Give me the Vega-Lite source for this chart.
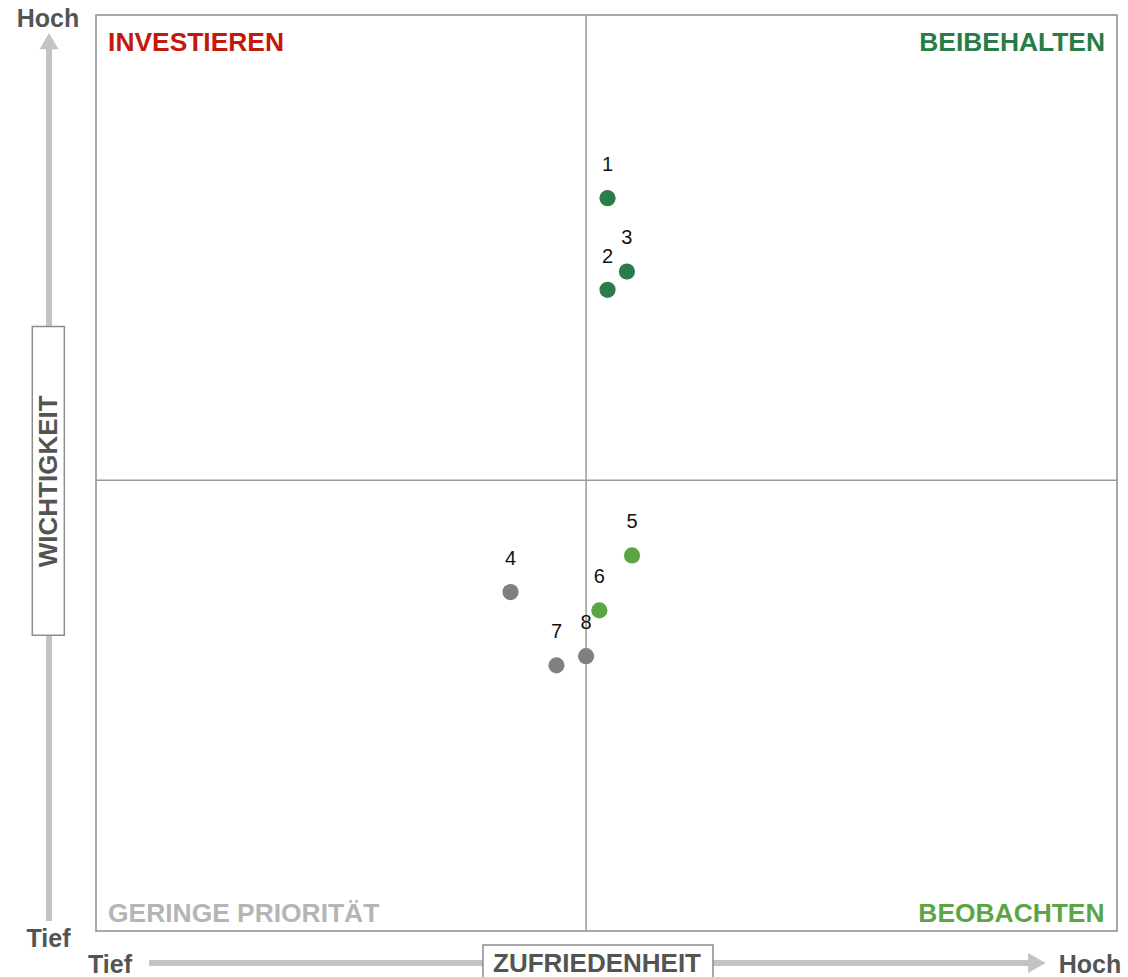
{
  "$schema": "https://vega.github.io/schema/vega-lite/v6.json",
  "autosize": {"type": "none"},
  "width": 1021,
  "height": 916,
  "padding": {"left": 96, "top": 15, "right": 11, "bottom": 46},
  "background": "white",
  "config": {
    "view": {"stroke": "#8c8c8c", "strokeWidth": 1.5},
    "font": "Liberation Sans"
  },
  "datasets": {
    "points": [
      {"id": "1", "zufriedenheit": 50.1, "wichtigkeit": 80.0, "gruppe": "Beibehalten"},
      {"id": "2", "zufriedenheit": 50.1, "wichtigkeit": 70.0, "gruppe": "Beibehalten"},
      {"id": "3", "zufriedenheit": 52.0, "wichtigkeit": 72.0, "gruppe": "Beibehalten"},
      {"id": "4", "zufriedenheit": 40.6, "wichtigkeit": 37.0, "gruppe": "Geringe Priorität"},
      {"id": "5", "zufriedenheit": 52.5, "wichtigkeit": 41.0, "gruppe": "Beobachten"},
      {"id": "6", "zufriedenheit": 49.3, "wichtigkeit": 35.0, "gruppe": "Beobachten"},
      {"id": "7", "zufriedenheit": 45.1, "wichtigkeit": 29.0, "gruppe": "Geringe Priorität"},
      {"id": "8", "zufriedenheit": 48.0, "wichtigkeit": 30.0, "gruppe": "Geringe Priorität"}
    ],
    "quadrantsLeft": [
      {"label": "INVESTIEREN", "quadrant": "Investieren", "x": 1.18, "y": 97.0},
      {"label": "GERINGE PRIORITÄT", "quadrant": "Geringe Priorität", "x": 1.18, "y": 2.0}
    ],
    "quadrantsRight": [
      {"label": "BEIBEHALTEN", "quadrant": "Beibehalten", "x": 98.82, "y": 97.0},
      {"label": "BEOBACHTEN", "quadrant": "Beobachten", "x": 98.78, "y": 2.0}
    ],
    "arrowLines": [
      {"axis": "Wichtigkeit", "x": -4.6, "y": 1.1, "x2": -4.6, "y2": 96.4},
      {"axis": "Zufriedenheit", "x": 5.2, "y": -3.5, "x2": 91.4, "y2": -3.5}
    ],
    "arrowHeadsUp": [{"axis": "Wichtigkeit", "x": -4.6, "y": 97.15}],
    "arrowHeadsRight": [{"axis": "Zufriedenheit", "x": 92.15, "y": -3.5}],
    "boxes": [
      {"axis": "Wichtigkeit", "x": -6.24, "x2": -3.1, "y": 32.3, "y2": 66.0},
      {"axis": "Zufriedenheit", "x": 37.9, "x2": 60.43, "y": -6.5, "y2": -1.53}
    ],
    "endLabels": [
      {"label": "Hoch", "x": -4.7, "y": 99.67},
      {"label": "Tief", "x": -4.65, "y": -0.76},
      {"label": "Tief", "x": 1.37, "y": -3.55},
      {"label": "Hoch", "x": 97.36, "y": -3.55}
    ]
  },
  "layer": [
    {
      "data": {"values": [{"mitte": 48.0}]},
      "mark": {"type": "rule", "color": "#9a9a9a", "strokeWidth": 1.5},
      "encoding": {
        "x": {"field": "mitte", "type": "quantitative", "scale": {"domain": [0, 100], "nice": false, "zero": false}, "axis": null}
      }
    },
    {
      "data": {"values": [{"mitte": 49.2}]},
      "mark": {"type": "rule", "color": "#9a9a9a", "strokeWidth": 1.5},
      "encoding": {
        "y": {"field": "mitte", "type": "quantitative", "scale": {"domain": [0, 100], "nice": false, "zero": false}, "axis": null}
      }
    },
    {
      "data": {"name": "arrowLines"},
      "mark": {"type": "rule", "color": "#c3c3c3", "strokeWidth": 6, "strokeCap": "butt", "clip": false},
      "encoding": {
        "x": {"field": "x", "type": "quantitative", "scale": {"domain": [0, 100], "nice": false, "zero": false}, "axis": null},
        "x2": {"field": "x2"},
        "y": {"field": "y", "type": "quantitative", "scale": {"domain": [0, 100], "nice": false, "zero": false}, "axis": null},
        "y2": {"field": "y2"}
      }
    },
    {
      "data": {"name": "arrowHeadsUp"},
      "mark": {"type": "point", "shape": "triangle-up", "filled": true, "color": "#c3c3c3", "opacity": 1, "size": 361, "clip": false},
      "encoding": {
        "x": {"field": "x", "type": "quantitative", "scale": {"domain": [0, 100], "nice": false, "zero": false}, "axis": null},
        "y": {"field": "y", "type": "quantitative", "scale": {"domain": [0, 100], "nice": false, "zero": false}, "axis": null}
      }
    },
    {
      "data": {"name": "arrowHeadsRight"},
      "mark": {"type": "point", "shape": "triangle-right", "filled": true, "color": "#c3c3c3", "opacity": 1, "size": 400, "clip": false},
      "encoding": {
        "x": {"field": "x", "type": "quantitative", "scale": {"domain": [0, 100], "nice": false, "zero": false}, "axis": null},
        "y": {"field": "y", "type": "quantitative", "scale": {"domain": [0, 100], "nice": false, "zero": false}, "axis": null}
      }
    },
    {
      "data": {"name": "boxes"},
      "mark": {"type": "rect", "fill": "white", "stroke": "#8c8c8c", "strokeWidth": 1.5, "clip": false},
      "encoding": {
        "x": {"field": "x", "type": "quantitative", "scale": {"domain": [0, 100], "nice": false, "zero": false}, "axis": null},
        "x2": {"field": "x2"},
        "y": {"field": "y", "type": "quantitative", "scale": {"domain": [0, 100], "nice": false, "zero": false}, "axis": null},
        "y2": {"field": "y2"}
      }
    },
    {
      "data": {"values": [{"label": "WICHTIGKEIT", "x": -4.67, "y": 49.1}]},
      "mark": {"type": "text", "angle": 270, "fontSize": 26, "fontWeight": "bold", "color": "#535553", "align": "center", "baseline": "middle", "dy": 1, "clip": false},
      "encoding": {
        "x": {"field": "x", "type": "quantitative", "scale": {"domain": [0, 100], "nice": false, "zero": false}, "axis": null},
        "y": {"field": "y", "type": "quantitative", "scale": {"domain": [0, 100], "nice": false, "zero": false}, "axis": null},
        "text": {"field": "label"}
      }
    },
    {
      "data": {"values": [{"label": "ZUFRIEDENHEIT", "x": 49.07, "y": -3.53}]},
      "mark": {"type": "text", "fontSize": 26, "fontWeight": "bold", "color": "#535553", "align": "center", "baseline": "middle", "dy": 1, "clip": false},
      "encoding": {
        "x": {"field": "x", "type": "quantitative", "scale": {"domain": [0, 100], "nice": false, "zero": false}, "axis": null},
        "y": {"field": "y", "type": "quantitative", "scale": {"domain": [0, 100], "nice": false, "zero": false}, "axis": null},
        "text": {"field": "label"}
      }
    },
    {
      "data": {"name": "endLabels"},
      "mark": {"type": "text", "fontSize": 25, "fontWeight": "bold", "color": "#535553", "align": "center", "baseline": "middle", "dy": 1, "clip": false},
      "encoding": {
        "x": {"field": "x", "type": "quantitative", "scale": {"domain": [0, 100], "nice": false, "zero": false}, "axis": null},
        "y": {"field": "y", "type": "quantitative", "scale": {"domain": [0, 100], "nice": false, "zero": false}, "axis": null},
        "text": {"field": "label"}
      }
    },
    {
      "data": {"name": "quadrantsLeft"},
      "mark": {"type": "text", "fontSize": 26.4, "fontWeight": "bold", "align": "left", "baseline": "middle", "dy": 1},
      "encoding": {
        "x": {"field": "x", "type": "quantitative", "scale": {"domain": [0, 100], "nice": false, "zero": false}, "axis": null},
        "y": {"field": "y", "type": "quantitative", "scale": {"domain": [0, 100], "nice": false, "zero": false}, "axis": null},
        "text": {"field": "label"},
        "color": {"field": "quadrant", "type": "nominal", "legend": null,
          "scale": {"domain": ["Investieren", "Beibehalten", "Beobachten", "Geringe Priorität"], "range": ["#c3190b", "#277c47", "#5ba544", "#b5b5b5"]}}
      }
    },
    {
      "data": {"name": "quadrantsRight"},
      "mark": {"type": "text", "fontSize": 26.4, "fontWeight": "bold", "align": "right", "baseline": "middle", "dy": 1},
      "encoding": {
        "x": {"field": "x", "type": "quantitative", "scale": {"domain": [0, 100], "nice": false, "zero": false}, "axis": null},
        "y": {"field": "y", "type": "quantitative", "scale": {"domain": [0, 100], "nice": false, "zero": false}, "axis": null},
        "text": {"field": "label"},
        "color": {"field": "quadrant", "type": "nominal", "legend": null,
          "scale": {"domain": ["Investieren", "Beibehalten", "Beobachten", "Geringe Priorität"], "range": ["#c3190b", "#277c47", "#5ba544", "#b5b5b5"]}}
      }
    },
    {
      "data": {"name": "points"},
      "mark": {"type": "circle", "size": 262, "opacity": 1},
      "encoding": {
        "x": {"field": "zufriedenheit", "type": "quantitative", "scale": {"domain": [0, 100], "nice": false, "zero": false}, "axis": null},
        "y": {"field": "wichtigkeit", "type": "quantitative", "scale": {"domain": [0, 100], "nice": false, "zero": false}, "axis": null},
        "color": {"field": "gruppe", "type": "nominal", "legend": null,
          "scale": {"domain": ["Investieren", "Beibehalten", "Beobachten", "Geringe Priorität"], "range": ["#c3190b", "#2a7d4a", "#5aa643", "#808080"]}}
      }
    },
    {
      "data": {"name": "points"},
      "mark": {"type": "text", "fontSize": 20, "color": "#111111", "align": "center", "baseline": "middle", "dy": -33},
      "encoding": {
        "x": {"field": "zufriedenheit", "type": "quantitative", "scale": {"domain": [0, 100], "nice": false, "zero": false}, "axis": null},
        "y": {"field": "wichtigkeit", "type": "quantitative", "scale": {"domain": [0, 100], "nice": false, "zero": false}, "axis": null},
        "text": {"field": "id"}
      }
    }
  ],
  "resolve": {"scale": {"color": "independent"}}
}
